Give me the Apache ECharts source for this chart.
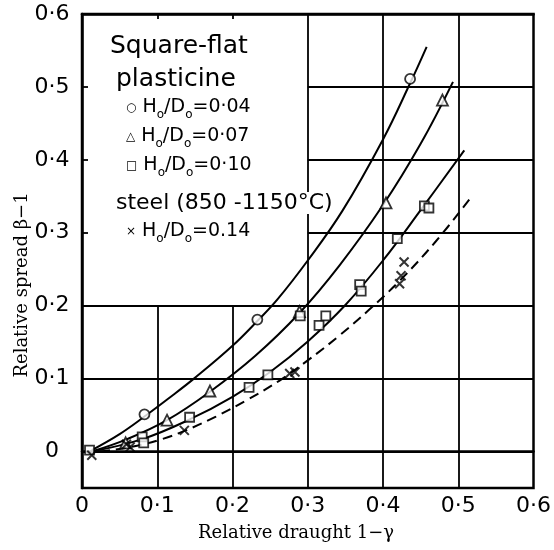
<!DOCTYPE html>
<html>
<head>
<meta charset="utf-8">
<script src="https://cdn.jsdelivr.net/npm/echarts@6/dist/echarts.min.js"></script>
<style>
    html, body {margin:0;padding:0;background:#fff;}
    #chart {width:554px;height:550px;}
</style>
</head>
<body>
<div id="chart"></div>
<script>
    // tick positions
    var xTicks = [0, 0.1, 0.2, 0.3, 0.4, 0.5, 0.6];
    var yTicks = [0, 0.1, 0.2, 0.3, 0.4, 0.5, 0.6];
    // grid lines: some stop short where the key text sits
    var vLinesFull = [0.3, 0.4, 0.5];
    var vLinesShort = [0.1, 0.2];
    var hLinesFull = [0, 0.1, 0.2];
    var hLinesShort = [0.3, 0.4, 0.5];

    // measured points
    var pts004 = [[0.083, 0.051], [0.233, 0.181], [0.436, 0.511]];
    var pts007 = [[0.058, 0.012], [0.113, 0.043], [0.170, 0.083], [0.289, 0.192], [0.404, 0.341], [0.479, 0.482]];
    var pts010 = [[0.010, 0.002], [0.080, 0.020], [0.082, 0.012], [0.143, 0.047], [0.222, 0.088], [0.247, 0.105],
                  [0.290, 0.186], [0.315, 0.173], [0.324, 0.186], [0.369, 0.229], [0.371, 0.220],
                  [0.419, 0.292], [0.455, 0.337], [0.461, 0.334]];
    var pts014 = [[0.013, -0.005], [0.059, 0.010], [0.064, 0.006], [0.136, 0.029], [0.276, 0.107], [0.283, 0.109],
                  [0.428, 0.260], [0.424, 0.241], [0.422, 0.230]];

    // fitted curves
    var fit004 = [[0.013, 0.002], [0.05, 0.024], [0.083, 0.048], [0.114, 0.072], [0.15, 0.101], [0.2, 0.145],
                  [0.233, 0.179], [0.26, 0.209], [0.3, 0.262], [0.346, 0.330], [0.4, 0.428], [0.436, 0.505], [0.458, 0.555]];
    var fit007 = [[0.013, 0.0], [0.06, 0.017], [0.113, 0.043], [0.17, 0.082], [0.23, 0.131], [0.289, 0.190],
                  [0.342, 0.255], [0.4, 0.338], [0.45, 0.422], [0.493, 0.507]];
    var fit010 = [[0.013, 0.0], [0.08, 0.017], [0.143, 0.044], [0.2, 0.075], [0.25, 0.109], [0.3, 0.151],
                  [0.35, 0.201], [0.4, 0.262], [0.45, 0.331], [0.508, 0.413]];
    var fit014 = [[0.024, 0.0], [0.064, 0.006], [0.103, 0.016], [0.138, 0.029], [0.178, 0.048], [0.22, 0.071],
                  [0.262, 0.097], [0.3, 0.125], [0.342, 0.159], [0.38, 0.193], [0.421, 0.233], [0.47, 0.288], [0.518, 0.350]];

    var X_MIN = 0, X_MAX = 0.6, Y_MIN = -0.05, Y_MAX = 0.6;

    var chart = echarts.init(document.getElementById('chart'));

    var fmt = function (v) {
        if (Math.abs(v) < 1e-9) return '0';
        return v.toFixed(1).replace('.', '\u00b7');
    };

    // grid lines as segments
    var gridSegs = [];
    vLinesFull.forEach(function (x) { gridSegs.push([{coord: [x, Y_MIN]}, {coord: [x, Y_MAX]}]); });
    vLinesShort.forEach(function (x) { gridSegs.push([{coord: [x, Y_MIN]}, {coord: [x, 0.2]}]); });
    hLinesFull.forEach(function (y) { gridSegs.push([{coord: [X_MIN, y]}, {coord: [X_MAX, y]}]); });
    hLinesShort.forEach(function (y) { gridSegs.push([{coord: [0.3, y]}, {coord: [X_MAX, y]}]); });

    var sans = 'DejaVu Sans';
    var rich = {
        n: {fontFamily: sans, fontSize: 19, color: '#000'},
        s: {fontFamily: sans, fontSize: 12, color: '#000', verticalAlign: 'bottom', lineHeight: 26},
        m: {fontFamily: sans, fontSize: 12, color: '#000', padding: [0, 6, 0, 0]}
    };
    var keyLine = function (sym, val) {
        return '{m|' + sym + '}{n|H}{s|o}{n|/D}{s|o}{n|=' + val + '}';
    };

    var markerStyle = {color: '#fff', borderColor: '#000', borderWidth: 1.8};

    var option = {
        animation: false,
        grid: {left: 82, right: 19, top: 14, bottom: 62, show: true, borderColor: '#000', borderWidth: 2.5},
        xAxis: [{
            type: 'value', min: X_MIN, max: X_MAX, position: 'bottom',
            axisLine: {show: true, lineStyle: {color: '#000', width: 2.5}},
            axisTick: {show: false},
            splitLine: {show: false},
            axisLabel: {customValues: xTicks, formatter: fmt, color: '#000', fontFamily: sans, fontSize: 22, margin: 7}
        }, {
            type: 'value', min: X_MIN, max: X_MAX, position: 'top',
            axisLine: {show: true, lineStyle: {color: '#000', width: 2.5}},
            axisTick: {show: true, inside: true, length: 5, customValues: [0.1, 0.2], lineStyle: {color: '#000', width: 1.8}},
            splitLine: {show: false},
            axisLabel: {show: false}
        }],
        yAxis: {
            type: 'value', min: Y_MIN, max: Y_MAX,
            axisLine: {show: true, lineStyle: {color: '#000', width: 2.5}},
            axisTick: {show: true, inside: true, length: 6, customValues: [0.3, 0.4, 0.5], lineStyle: {color: '#000', width: 1.8}},
            splitLine: {show: false},
            axisLabel: {customValues: yTicks, formatter: fmt, color: '#000', fontFamily: sans, fontSize: 22, align: 'center', margin: 30}
        },
        graphic: [
            {type: 'text', left: 110, top: 34, style: {text: 'Square-flat', font: '25px "DejaVu Sans"', fill: '#000'}},
            {type: 'text', left: 116, top: 67, style: {text: 'plasticine', font: '25px "DejaVu Sans"', fill: '#000'}},
            {type: 'text', left: 126, top: 98, style: {text: keyLine('\u25cb', '0\u00b704'), rich: rich}},
            {type: 'text', left: 126, top: 127, style: {text: keyLine('\u25b3', '0\u00b707'), rich: rich}},
            {type: 'text', left: 126, top: 156, style: {text: keyLine('\u25a1', '0\u00b710'), rich: rich}},
            {type: 'text', left: 116, top: 192, z: 10, style: {text: 'steel (850 -1150\u00b0C)', font: '22px "DejaVu Sans"', fill: '#000', backgroundColor: '#fff'}},
            {type: 'text', left: 126, top: 222, style: {text: keyLine('\u00d7', '0.14'), rich: rich}},
            {type: 'text', x: 296, y: 533, style: {text: 'Relative draught 1\u2212\u03b3', font: '18px "DejaVu Serif"', fill: '#000', align: 'center', verticalAlign: 'middle'}},
            {type: 'text', x: 22, y: 285, rotation: Math.PI / 2, style: {text: 'Relative spread \u03b2\u22121', font: '18px "DejaVu Serif"', fill: '#000', align: 'center', verticalAlign: 'middle'}}
        ],
        series: [
            {type: 'line', data: fit004, smooth: 0.4, showSymbol: false, lineStyle: {color: '#000', width: 2},
             markLine: {silent: true, symbol: 'none', label: {show: false}, lineStyle: {color: '#000', width: 1.8, type: 'solid'}, data: gridSegs}},
            {type: 'line', data: fit007, smooth: 0.4, showSymbol: false, lineStyle: {color: '#000', width: 2}},
            {type: 'line', data: fit010, smooth: 0.4, showSymbol: false, lineStyle: {color: '#000', width: 2}},
            {type: 'line', data: fit014, smooth: 0.4, showSymbol: false, lineStyle: {color: '#000', width: 2, type: [10, 6]}},
            {type: 'scatter', data: pts004, symbol: 'circle', symbolSize: 10, itemStyle: markerStyle, z: 5},
            {type: 'scatter', data: pts007, symbol: 'triangle', symbolSize: 11, itemStyle: markerStyle, z: 5},
            {type: 'scatter', data: pts010, symbol: 'rect', symbolSize: 9, itemStyle: markerStyle, z: 5},
            {type: 'scatter', data: pts014, symbol: 'path://M0,0L10,10M10,0L0,10', symbolSize: 9,
             itemStyle: {color: 'none', borderColor: '#000', borderWidth: 2}, z: 5}
        ]
    };
    chart.setOption(option);
</script>
</body>
</html>
